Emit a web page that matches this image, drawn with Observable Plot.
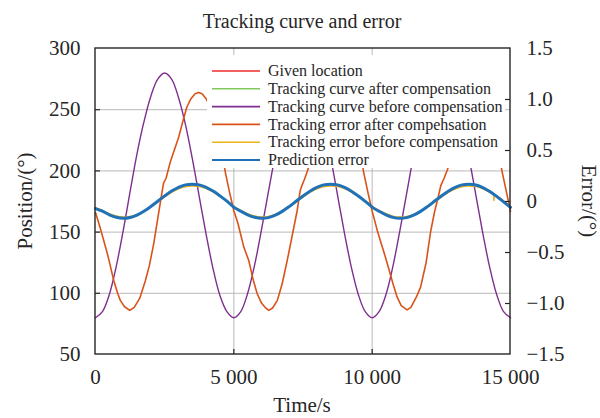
<!DOCTYPE html>
<html>
<head>
<meta charset="utf-8">
<script src="https://cdn.jsdelivr.net/npm/d3@7"></script>
<script src="https://cdn.jsdelivr.net/npm/@observablehq/plot@0.6"></script>
<style>
  html, body { margin: 0; padding: 0; background: #fff; }
</style>
</head>
<body>
<div id="chart"></div>
<script>
// ---------------- data ----------------
const titleText = "Tracking curve and error";
const seriesNames = [
  "Given location",
  "Tracking curve after compensation",
  "Tracking curve before compensation",
  "Tracking error after compehsation",
  "Tracking error before compensation",
  "Prediction error"
];
const seriesColors = ["#ee2b2b", "#80c85a", "#7e2f8e", "#d95319", "#edb120", "#1f72b8"];

const timeTicks = [0, 5000, 10000, 15000];
const timeTickLabels = ["0", "5 000", "10 000", "15 000"];
const posTicks = [50, 100, 150, 200, 250, 300];
const errTicks = [-1.5, -1.0, -0.5, 0, 0.5, 1.0, 1.5];
const errTickLabels = ["\u22121.5", "\u22121.0", "\u22120.5", "0", "0.5", "1.0", "1.5"];

// sample times (s) for the smooth curves
const t250 = [0,250,500,750,1000,1250,1500,1750,2000,2250,2500,2750,3000,3250,3500,3750,4000,4250,4500,4750,
  5000,5250,5500,5750,6000,6250,6500,6750,7000,7250,7500,7750,8000,8250,8500,8750,9000,9250,9500,9750,
  10000,10250,10500,10750,11000,11250,11500,11750,12000,12250,12500,12750,13000,13250,13500,13750,14000,14250,14500,14750,15000];

// position (°)
const givenLocation = [169.5,167.1,164.2,162.1,161.3,161.9,163.9,167.0,170.9,175.3,179.6,183.5,186.6,188.6,189.2,188.6,186.6,183.5,179.6,175.3,
  170.4,167.1,164.2,162.1,161.3,161.9,163.9,167.0,170.9,175.3,179.6,183.5,186.6,188.6,189.2,188.6,186.6,183.5,179.6,175.3,
  170.4,167.1,164.2,162.1,161.3,161.9,163.9,167.0,170.9,175.3,179.6,183.5,186.6,188.6,189.2,188.6,186.6,183.5,179.6,175.3,170.3];
const trackingAfter = [169.6,167.2,164.3,162.2,161.4,162.0,164.0,167.1,171.0,175.3,179.6,183.4,186.5,188.5,189.1,188.5,186.5,183.4,179.5,175.2,
  170.4,167.1,164.2,162.1,161.4,162.0,164.0,167.1,171.0,175.3,179.6,183.4,186.5,188.5,189.1,188.5,186.5,183.4,179.5,175.2,
  170.4,167.1,164.2,162.1,161.4,162.0,164.0,167.1,171.0,175.3,179.6,183.4,186.5,188.5,189.1,188.5,186.5,183.4,179.5,175.2,170.3];
const trackingBefore = [80,85,99,122,151,183,214,240,261,275,280,275,260,238,210,179,148,120,98,85,
  80,85,100,123,152,183,213,240,261,275,280,275,261,239,211,180,149,121,99,85,
  80,85,99,122,151,182,213,240,261,275,280,275,261,239,211,180,149,121,99,85,80];

// error (°)
const predictionError = [-0.07,-0.095,-0.130,-0.155,-0.165,-0.157,-0.133,-0.096,-0.049,0.003,0.055,0.102,0.139,0.163,0.170,0.163,0.139,0.102,0.055,0.003,
  -0.055,-0.095,-0.131,-0.155,-0.165,-0.158,-0.134,-0.097,-0.050,0.002,0.054,0.101,0.139,0.163,0.170,0.163,0.139,0.101,0.054,0.002,
  -0.055,-0.096,-0.131,-0.156,-0.165,-0.158,-0.134,-0.097,-0.050,0.002,0.054,0.101,0.139,0.163,0.170,0.162,0.137,0.098,0.050,-0.003,-0.058];
const tBeforeErr = [0,250,500,750,1000,1250,1500,1750,2000,2250,2500,2750,3000,3250,3500,3750,4000,4250,4500,4750,
  5000,5250,5500,5750,6000,6250,6500,6750,7000,7250,7500,7750,8000,8250,8500,8750,9000,9250,9500,9750,
  10000,10250,10500,10750,11000,11250,11500,11750,12000,12250,12500,12750,13000,13250,13500,13750,14000,14250,14380,14400,14420,14500,14750,15000];
const errBefore = [-0.062,-0.088,-0.121,-0.143,-0.153,-0.148,-0.128,-0.094,-0.050,-0.003,0.045,0.090,0.124,0.146,0.153,0.148,0.128,0.094,0.050,0.003,
  -0.050,-0.088,-0.120,-0.143,-0.152,-0.147,-0.128,-0.093,-0.050,-0.004,0.044,0.089,0.124,0.146,0.152,0.148,0.127,0.093,0.049,0.003,
  -0.050,-0.089,-0.121,-0.144,-0.153,-0.148,-0.129,-0.094,-0.051,-0.004,0.044,0.089,0.123,0.146,0.152,0.147,0.126,0.091,0.070,0.010,0.066,0.046,-0.002,-0.052];

const tAfterErr = [0,150,300,445,550,660,800,900,1050,1240,1400,1600,1800,1950,2100,2250,2400,2460,2550,2700,2850,3000,3150,3300,3450,3600,3730,3850,4000,4200,4400,4550,4700,4850,
  5000,5150,5360,5540,5700,5845,6000,6150,6264,6400,6570,6750,6930,7100,7290,7400,7460,7550,7660,7800,8000,8150,8300,8450,8600,8730,8850,9000,9200,9400,9550,9700,9850,
  10000,10060,10200,10350,10480,10600,10750,10900,11050,11265,11400,11600,11750,11950,12110,12250,12400,12480,12600,12720,12850,13000,13150,13300,13450,13600,13730,13850,14000,14200,14400,14550,14700,14850,15000];
const errAfter = [-0.108,-0.24,-0.384,-0.528,-0.648,-0.774,-0.9,-0.972,-1.032,-1.068,-1.038,-0.948,-0.78,-0.624,-0.42,-0.168,0.084,0.18,0.228,0.384,0.504,0.624,0.78,0.924,1.008,1.056,1.068,1.056,1.008,0.888,0.708,0.516,0.276,0.084,
  -0.091,-0.216,-0.447,-0.579,-0.768,-0.904,-0.996,-1.044,-1.068,-1.044,-0.972,-0.804,-0.578,-0.348,-0.088,0.108,0.156,0.216,0.3,0.42,0.612,0.756,0.912,1.008,1.056,1.068,1.056,1.008,0.888,0.708,0.516,0.276,0.084,
  -0.096,-0.156,-0.3,-0.432,-0.546,-0.66,-0.804,-0.936,-1.02,-1.062,-1.038,-0.936,-0.84,-0.6,-0.3,-0.108,0.06,0.156,0.228,0.312,0.42,0.564,0.72,0.876,0.996,1.056,1.068,1.056,1.008,0.888,0.708,0.516,0.288,0.096,-0.096];

// ---------------- chart ----------------
const posDomain = [50, 300];
const errDomain = [-1.5, 1.5];
// map an error value onto the position scale (right axis shares the frame)
const errToPos = e => posDomain[0] + (e - errDomain[0]) * (posDomain[1] - posDomain[0]) / (errDomain[1] - errDomain[0]);

const rows = (ts, vs, f = v => v) => ts.map((t, i) => ({t, v: f(vs[i])}));
const givenRows = rows(t250, givenLocation);
const afterRows = rows(t250, trackingAfter);
const beforeRows = rows(t250, trackingBefore);
const errAfterRows = rows(tAfterErr, errAfter, errToPos);
const errBeforeRows = rows(tBeforeErr, errBefore, errToPos);
const predRows = rows(t250, predictionError, errToPos);

const xLabel = new Map(timeTicks.map((d, i) => [d, timeTickLabels[i]]));
const errPosTicks = errTicks.map(errToPos);
const errLabel = new Map(errPosTicks.map((d, i) => [d, errTickLabels[i]]));

const ink = "#262626";
const gridColor = "#b9b9b9";

const chart = Plot.plot({
  width: 600,
  height: 418,
  marginLeft: 95,
  marginRight: 90,
  marginTop: 48,
  marginBottom: 64,
  style: {fontFamily: "'Liberation Serif', 'Times New Roman', serif", fontSize: "21px", color: ink, background: "white", overflow: "visible"},
  x: {domain: [0, 15000]},
  y: {domain: posDomain},
  marks: [
    Plot.gridY([100, 150, 200, 250], {stroke: gridColor, strokeOpacity: 1, strokeWidth: 1}),
    Plot.gridX([5000, 10000], {stroke: gridColor, strokeOpacity: 1, strokeWidth: 1}),
    Plot.line(givenRows, {x: "t", y: "v", stroke: seriesColors[0], strokeWidth: 1.5}),
    Plot.line(afterRows, {x: "t", y: "v", stroke: seriesColors[1], strokeWidth: 1.5, curve: "catmull-rom"}),
    Plot.line(beforeRows, {x: "t", y: "v", stroke: seriesColors[2], strokeWidth: 1.4, curve: "catmull-rom"}),
    Plot.line(errAfterRows, {x: "t", y: "v", stroke: seriesColors[3], strokeWidth: 1.6}),
    Plot.line(errBeforeRows, {x: "t", y: "v", stroke: seriesColors[4], strokeWidth: 1.6, curve: "catmull-rom"}),
    Plot.line(predRows, {x: "t", y: "v", stroke: seriesColors[5], strokeWidth: 3, curve: "catmull-rom"}),
    // inward tick marks
    Plot.ruleY([100, 150, 200, 250], {x1: 0, x2: 180, stroke: ink, strokeWidth: 1.2}),
    Plot.ruleY(errPosTicks.slice(1, -1), {x1: 14820, x2: 15000, stroke: ink, strokeWidth: 1.2}),
    Plot.ruleX([5000, 10000], {y1: 50, y2: 54, stroke: ink, strokeWidth: 1.2}),
    Plot.axisY(posTicks, {anchor: "left", tickSize: 0, tickPadding: 15, label: null, fill: ink}),
    Plot.axisY(errPosTicks, {anchor: "right", tickSize: 0, tickPadding: 16, label: null, tickFormat: d => errLabel.get(d), fill: ink}),
    Plot.axisX(timeTicks, {anchor: "bottom", tickSize: 0, tickPadding: 15, label: null, tickFormat: d => xLabel.get(d), fill: ink})
  ]
});

document.getElementById("chart").appendChild(chart);

// legend (opaque box drawn over the curves), title and axis titles
const svg = d3.select(chart);
const lg = svg.append("g").attr("text-anchor", "start");
lg.append("rect").attr("x", 207).attr("y", 55).attr("width", 298).attr("height", 113).attr("fill", "white");
seriesNames.forEach((name, i) => {
  const y = 71 + i * 17.8;
  lg.append("line").attr("x1", 212).attr("x2", 260).attr("y1", y).attr("y2", y)
    .attr("stroke", seriesColors[i]).attr("stroke-width", i === 5 ? 2 : 1.6);
  lg.append("text").attr("x", 268).attr("y", y).attr("dy", "0.33em").attr("text-anchor", "start")
    .attr("font-size", 16).attr("fill", ink).text(name);
});
// frame on top
svg.append("rect").attr("x", 95).attr("y", 48).attr("width", 415).attr("height", 306)
  .attr("fill", "none").attr("stroke", ink).attr("stroke-width", 1.4);

svg.append("text").attr("x", 302).attr("y", 21).attr("dy", "0.35em").attr("text-anchor", "middle")
  .attr("font-size", 20).attr("fill", ink).text(titleText);
svg.append("text").attr("transform", "translate(25,201) rotate(-90)").attr("dy", "0.35em")
  .attr("text-anchor", "middle").attr("font-size", 21).attr("fill", ink).text("Position/(°)");
svg.append("text").attr("transform", "translate(589,201) rotate(90)").attr("dy", "0.35em")
  .attr("text-anchor", "middle").attr("font-size", 21).attr("fill", ink).text("Error/(°)");
svg.append("text").attr("x", 302).attr("y", 405).attr("dy", "0.35em")
  .attr("text-anchor", "middle").attr("font-size", 21).attr("fill", ink).text("Time/s");
</script>
</body>
</html>
